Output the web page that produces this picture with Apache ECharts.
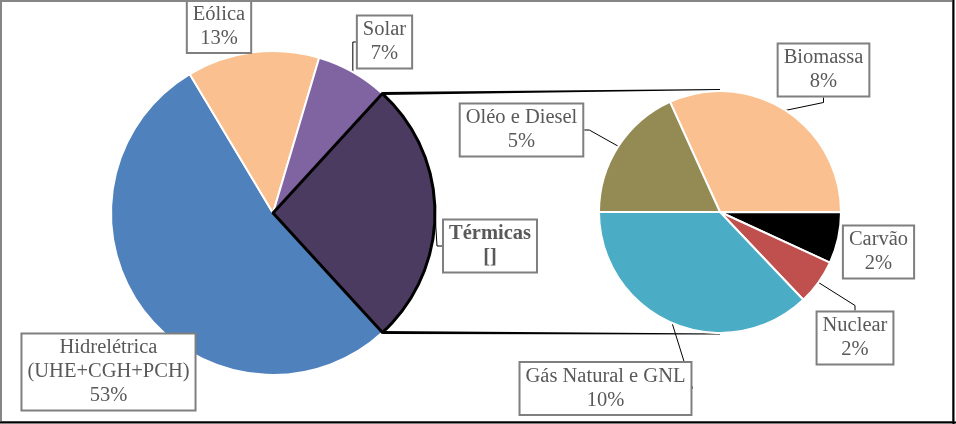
<!DOCTYPE html>
<html>
<head>
<meta charset="utf-8">
<script src="https://cdn.jsdelivr.net/npm/echarts@6/dist/echarts.min.js"></script>
<style>
html,body{margin:0;padding:0;background:#fff;}
#chart{width:956px;height:424px;}
</style>
</head>
<body>
<div id="chart"></div>
<script>
// Main pie (share of total, %)
const mainNames = ['Hidrelétrica (UHE+CGH+PCH)', 'Eólica', 'Solar', 'Térmicas'];
const mainValues = [53.2, 13.2, 7.2, 26.4];
const mainColors = ['#4F81BD', '#FAC090', '#8064A2', '#4B3B61'];

// Secondary pie: breakdown of Térmicas (share of total, %)
const subNames = ['Biomassa', 'Carvão', 'Nuclear', 'Gás Natural e GNL', 'Oléo e Diesel'];
const subValues = [8.4, 1.8, 1.6, 9.8, 4.8];
const subColors = ['#FAC090', '#000000', '#C0504D', '#4BACC6', '#948A54'];

// label box centres (layout only)
const mainLabelPos = [[108.5, 372], [219, 26.5], [384.5, 42], [490, 246]];
const subLabelPos = [[823.5, 70], [878.5, 252], [855, 338], [605.5, 388.5], [521.5, 130]];
const mainLineShow = [false, false, true, true];
const subLineShow = [true, false, true, true, true];

const MC = [273, 213], MR = 162;
const SC = [720, 212], SR = 121;
const THERMAL = 3;

const mainTotal = mainValues.reduce((a, b) => a + b, 0);
const thermalAngle = mainValues[THERMAL] / mainTotal * 360;
const mainStart = -thermalAngle / 2;   // Hidrelétrica starts where Térmicas ends
const subStart = 114.4;

const labelBase = {
  fontFamily: 'Liberation Serif',
  fontSize: 20.5,
  lineHeight: 24,
  color: '#595959',
  backgroundColor: '#fff',
  borderColor: '#7F7F7F',
  borderWidth: 2,
  padding: [2, 5, 1, 5],
  align: 'center'
};

const chart = echarts.init(document.getElementById('chart'), null, {renderer: 'canvas'});

const mainData = mainNames.map((n, i) => ({
  name: n,
  value: mainValues[i],
  itemStyle: i === THERMAL
    ? {color: mainColors[i], borderColor: '#000', borderWidth: 3}
    : {color: mainColors[i], borderColor: '#fff', borderWidth: 2},
  label: i === THERMAL ? {fontWeight: 'bold'} : {},
  labelLine: {show: mainLineShow[i]}
}));

const subData = subNames.map((n, i) => ({
  name: n,
  value: subValues[i],
  itemStyle: {color: subColors[i], borderColor: '#fff', borderWidth: 2},
  labelLine: {show: subLineShow[i]}
}));

// connector lines from Térmicas slice edges to the secondary pie
const rad = (thermalAngle / 2) * Math.PI / 180;
const pTop = [MC[0] + MR * Math.cos(rad), MC[1] - MR * Math.sin(rad)];
const pBot = [MC[0] + MR * Math.cos(rad), MC[1] + MR * Math.sin(rad)];
const qTop = [SC[0], SC[1] - SR];
const qBot = [SC[0], SC[1] + SR];

chart.setOption({
  animation: false,
  backgroundColor: '#fff',
  graphic: [
    {type: 'rect', shape: {x: 1, y: 1, width: 952, height: 421}, style: {fill: 'none', stroke: '#868686', lineWidth: 2}, z: 100},
    {type: 'line', shape: {x1: 953.5, y1: 0, x2: 953.5, y2: 424}, style: {stroke: '#000', lineWidth: 2}, z: 101},
    {type: 'line', shape: {x1: 0, y1: 422.5, x2: 956, y2: 422.5}, style: {stroke: '#000', lineWidth: 2}, z: 101},
    {type: 'polygon', shape: {points: [[pTop[0], pTop[1] - 1.5], [qTop[0], qTop[1] - 2], [qTop[0], qTop[1] - 1], [pTop[0], pTop[1] + 1.5]]}, style: {fill: '#000'}, z: 0},
    {type: 'polygon', shape: {points: [[pBot[0], pBot[1] - 1.5], [qBot[0], qBot[1] + 0.5], [qBot[0], qBot[1] + 1.5], [pBot[0], pBot[1] + 1.5]]}, style: {fill: '#000'}, z: 0}
  ],
  series: [
    {
      type: 'pie',
      center: MC,
      radius: MR,
      startAngle: mainStart,
      clockwise: true,
      avoidLabelOverlap: false,
      data: mainData,
      label: Object.assign({}, labelBase, {
        formatter: p => p.name.replace(' (', '\n(') + '\n' + (p.dataIndex === THERMAL ? '[]' : Math.round(p.percent) + '%')
      }),
      labelLine: {show: true, length: 5, length2: 5, lineStyle: {color: '#000', width: 1}},
      labelLayout: p => ({x: mainLabelPos[p.dataIndex][0], y: mainLabelPos[p.dataIndex][1], align: 'center', verticalAlign: 'middle'}),
      emphasis: {disabled: true},
      z: 2
    },
    {
      type: 'pie',
      center: SC,
      radius: SR,
      startAngle: subStart,
      clockwise: true,
      avoidLabelOverlap: false,
      data: subData,
      label: Object.assign({}, labelBase, {
        formatter: p => p.name + '\n' + Math.round(p.value) + '%'
      }),
      labelLine: {show: true, length: 5, length2: 5, lineStyle: {color: '#000', width: 1}},
      labelLayout: p => ({x: subLabelPos[p.dataIndex][0], y: subLabelPos[p.dataIndex][1], align: 'center', verticalAlign: 'middle'}),
      emphasis: {disabled: true},
      z: 2
    }
  ]
});
</script>
</body>
</html>
